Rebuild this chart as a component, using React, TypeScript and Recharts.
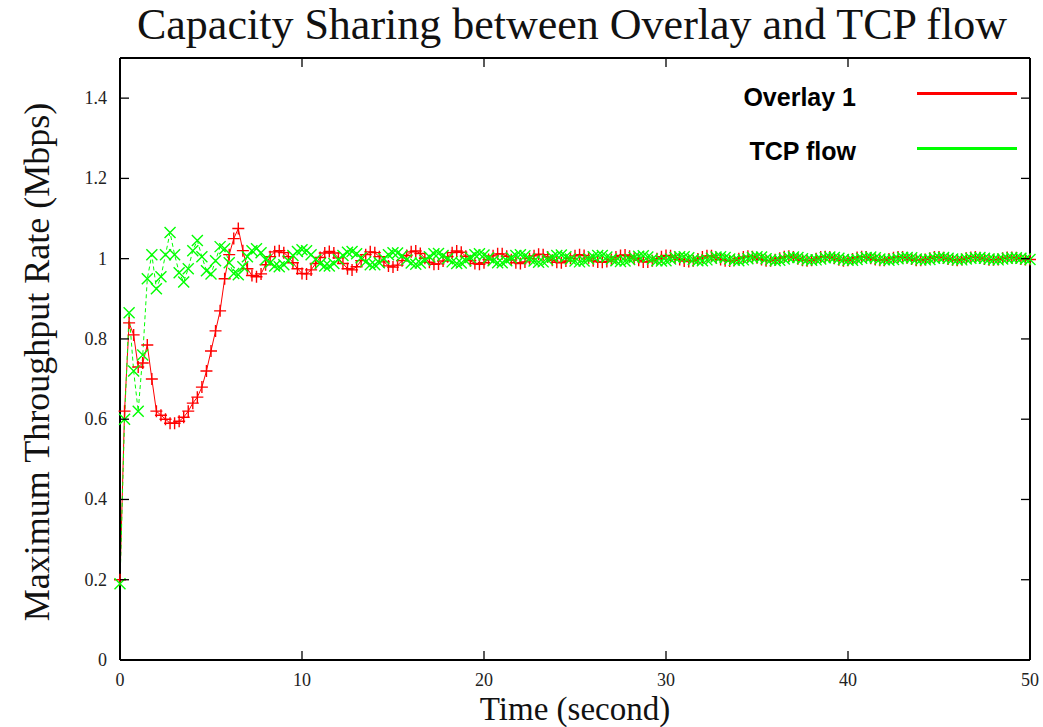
import { LineChart, Line, XAxis, YAxis } from "recharts";

// samples every 0.25 s, t = 0 .. 50
const STEP = 0.25;

const overlay1 = [
  0.2, 0.62, 0.84, 0.81, 0.73, 0.74, 0.785, 0.7,
  0.62, 0.61, 0.6, 0.59, 0.59, 0.595, 0.605, 0.62,
  0.64, 0.655, 0.68, 0.72, 0.77, 0.82, 0.87, 0.95,
  1.01, 1.05, 1.075, 1.02, 0.975, 0.958, 0.955, 0.962,
  0.985, 1.005, 1.017, 1.02, 1.015, 1.005, 0.99, 0.975,
  0.963, 0.962, 0.972, 0.988, 1.003, 1.014, 1.018, 1.014,
  1.002, 0.988, 0.975, 0.972, 0.98, 0.995, 1.01, 1.017,
  1.015, 1.005, 0.992, 0.982, 0.979, 0.984, 0.995, 1.008,
  1.017, 1.019, 1.013, 1.001, 0.991, 0.986, 0.987, 0.994,
  1.005, 1.015, 1.019, 1.016, 1.006, 0.995, 0.988, 0.986,
  0.99, 0.998, 1.007, 1.012, 1.012, 1.006, 0.997, 0.99,
  0.988, 0.992, 1.0, 1.007, 1.011, 1.01, 1.004, 0.996,
  0.991, 0.99, 0.994, 1.001, 1.007, 1.01, 1.008, 1.002,
  0.995, 0.992, 0.991, 0.993, 0.998, 1.004, 1.008, 1.009,
  1.006, 1.001, 0.996, 0.992, 0.992, 0.995, 1.0, 1.005,
  1.008, 1.007, 1.003, 0.998, 0.994, 0.993, 0.995, 0.999,
  1.004, 1.007, 1.007, 1.003, 0.998, 0.995, 0.994, 0.996,
  1.0, 1.004, 1.006, 1.005, 1.002, 0.998, 0.995, 0.995,
  0.997, 1.001, 1.005, 1.006, 1.004, 1.0, 0.996, 0.995,
  0.996, 1.0, 1.004, 1.005, 1.004, 1.001, 0.997, 0.995,
  0.996, 0.999, 1.003, 1.005, 1.004, 1.001, 0.998, 0.996,
  0.996, 0.999, 1.002, 1.004, 1.004, 1.002, 0.999, 0.996,
  0.996, 0.998, 1.001, 1.004, 1.004, 1.002, 0.999, 0.997,
  0.996, 0.998, 1.001, 1.003, 1.004, 1.002, 0.999, 0.997,
  0.997, 0.998, 1.001, 1.003, 1.003, 1.002, 0.999, 0.998,
  0.998,
];

const tcpFlow = [
  0.19, 0.6, 0.865, 0.72, 0.62, 0.76, 0.95, 1.01,
  0.925, 0.955, 1.01, 1.065, 1.01, 0.965, 0.942, 0.975,
  1.02, 1.045, 1.005, 0.97, 0.962, 0.995, 1.03, 1.025,
  0.99, 0.963, 0.96, 0.98, 1.005, 1.02, 1.025, 1.015,
  0.998, 0.99, 0.982, 0.98, 0.985, 0.995, 1.008, 1.018,
  1.022, 1.02, 1.01, 0.998, 0.988, 0.982, 0.982, 0.988,
  0.998, 1.008, 1.016, 1.018, 1.012, 1.002, 0.992, 0.985,
  0.985, 0.99, 1.0, 1.01, 1.015, 1.014, 1.007, 0.997,
  0.989, 0.986, 0.989, 0.996, 1.005, 1.012, 1.013, 1.008,
  1.0, 0.992, 0.988, 0.989, 0.995, 1.003, 1.01, 1.012,
  1.009, 1.002, 0.995, 0.99, 0.99, 0.995, 1.002, 1.008,
  1.01, 1.007, 1.0, 0.994, 0.991, 0.992, 0.997, 1.004,
  1.008, 1.009, 1.005, 0.999, 0.994, 0.992, 0.994, 0.999,
  1.005, 1.008, 1.008, 1.004, 0.999, 0.995, 0.993, 0.994,
  0.998, 1.003, 1.006, 1.007, 1.004, 0.999, 0.995, 0.994,
  0.995, 0.999, 1.003, 1.005, 1.005, 1.002, 0.998, 0.995,
  0.995, 0.997, 1.001, 1.004, 1.005, 1.003, 0.999, 0.996,
  0.995, 0.997, 1.0, 1.003, 1.005, 1.004, 1.0, 0.997,
  0.995, 0.996, 0.999, 1.003, 1.004, 1.003, 1.0, 0.997,
  0.996, 0.997, 0.999, 1.002, 1.004, 1.003, 1.001, 0.998,
  0.996, 0.996, 0.998, 1.001, 1.003, 1.004, 1.002, 0.999,
  0.997, 0.996, 0.998, 1.0, 1.003, 1.003, 1.002, 0.999,
  0.997, 0.997, 0.998, 1.001, 1.003, 1.003, 1.001, 0.999,
  0.997, 0.997, 0.999, 1.001, 1.002, 1.003, 1.001, 0.999,
  0.998, 0.997, 0.999, 1.001, 1.002, 1.002, 1.001, 0.999,
  0.998,
];

const xTicks = [0, 10, 20, 30, 40, 50];
const yTicks = [0, 0.2, 0.4, 0.6, 0.8, 1, 1.2, 1.4];
const yTickLabels = ["0", "0.2", "0.4", "0.6", "0.8", "1", "1.2", "1.4"];

const TITLE = "Capacity Sharing between Overlay and TCP flow";
const X_LABEL = "Time (second)";
const Y_LABEL = "Maximum Throughput Rate (Mbps)";
const SERIES_NAMES = ["Overlay 1", "TCP flow"];

const RED = "#ff0000";
const GREEN = "#00ff00";
const SERIF = "'Liberation Serif', 'DejaVu Serif', serif";
const SANS = "'Liberation Sans', Arial, sans-serif";
const TICK_LEN = 9;

const data = overlay1.map((v, i) => ({ t: i * STEP, overlay: v, tcp: tcpFlow[i] }));

function BottomTick(props: any) {
  const { x, y, payload } = props;
  return (
    <g>
      <line x1={x} x2={x} y1={y} y2={y - TICK_LEN} stroke="#000" strokeWidth={1.3} />
      <text x={x} y={y + 26} textAnchor="middle" fontFamily={SERIF} fontSize={18} fill="#222">
        {payload.value}
      </text>
    </g>
  );
}

function LeftTick(props: any) {
  const { x, y, payload, index } = props;
  return (
    <g>
      <line x1={x} x2={x + TICK_LEN} y1={y} y2={y} stroke="#000" strokeWidth={1.3} />
      <text x={x - 13} y={y + 6} textAnchor="end" fontFamily={SERIF} fontSize={18} fill="#222">
        {yTickLabels[index] ?? payload.value}
      </text>
    </g>
  );
}

function TopTick(props: any) {
  const { x, y } = props;
  return <line x1={x} x2={x} y1={y} y2={y + TICK_LEN} stroke="#000" strokeWidth={1.3} />;
}

function RightTick(props: any) {
  const { x, y } = props;
  return <line x1={x} x2={x - TICK_LEN} y1={y} y2={y} stroke="#000" strokeWidth={1.3} />;
}

function plusDot(props: any) {
  const { cx, cy, key } = props;
  if (cx == null || cy == null) return <g key={key} />;
  const r = 6;
  return (
    <path
      key={key}
      d={`M${cx - r},${cy}H${cx + r}M${cx},${cy - r}V${cy + r}`}
      stroke={RED}
      strokeWidth={1.4}
      fill="none"
    />
  );
}

function crossDot(props: any) {
  const { cx, cy, key } = props;
  if (cx == null || cy == null) return <g key={key} />;
  const r = 5.5;
  return (
    <path
      key={key}
      d={`M${cx - r},${cy - r}L${cx + r},${cy + r}M${cx - r},${cy + r}L${cx + r},${cy - r}`}
      stroke={GREEN}
      strokeWidth={1.4}
      fill="none"
    />
  );
}

export default function App() {
  const axisLine = { stroke: "#000", strokeWidth: 2 };
  return (
    <div
      style={{
        position: "absolute",
        left: 0,
        top: 0,
        width: 1043,
        height: 727,
        background: "#fff",
        overflow: "hidden",
      }}
    >
      <LineChart
        width={1043}
        height={727}
        data={data}
        margin={{ top: 57, right: 12, bottom: 37, left: 60 }}
      >
        <XAxis
          dataKey="t"
          type="number"
          domain={[0, 50]}
          ticks={xTicks}
          height={30}
          axisLine={axisLine}
          tickLine={false}
          tickSize={0}
          tickMargin={0}
          tick={<BottomTick />}
          interval={0}
        />
        <XAxis
          xAxisId="top"
          orientation="top"
          dataKey="t"
          type="number"
          domain={[0, 50]}
          ticks={xTicks}
          height={1}
          axisLine={axisLine}
          tickLine={false}
          tickSize={0}
          tickMargin={0}
          tick={<TopTick />}
          interval={0}
        />
        <YAxis
          type="number"
          domain={[0, 1.5]}
          ticks={yTicks}
          width={60}
          axisLine={axisLine}
          tickLine={false}
          tickSize={0}
          tickMargin={0}
          tick={<LeftTick />}
          interval={0}
          allowDataOverflow
        />
        <YAxis
          yAxisId="right"
          orientation="right"
          type="number"
          domain={[0, 1.5]}
          ticks={yTicks}
          width={1}
          axisLine={axisLine}
          tickLine={false}
          tickSize={0}
          tickMargin={0}
          tick={<RightTick />}
          interval={0}
          allowDataOverflow
        />
        <Line
          type="linear"
          dataKey="overlay"
          stroke={RED}
          strokeWidth={1}
          dot={plusDot}
          activeDot={false}
          isAnimationActive={false}
        />
        <Line
          type="linear"
          dataKey="tcp"
          stroke={GREEN}
          strokeWidth={1}
          strokeDasharray="4 3"
          dot={crossDot}
          activeDot={false}
          isAnimationActive={false}
        />
      </LineChart>

      <div
        style={{
          position: "absolute",
          left: 572,
          top: 25,
          transform: "translate(-50%, -50%)",
          whiteSpace: "nowrap",
          fontFamily: SERIF,
          fontSize: 44,
          lineHeight: 1,
          color: "#111",
        }}
      >
        {TITLE}
      </div>
      <div
        style={{
          position: "absolute",
          left: 575,
          top: 709,
          transform: "translate(-50%, -50%)",
          whiteSpace: "nowrap",
          fontFamily: SERIF,
          fontSize: 33,
          lineHeight: 1,
          color: "#111",
        }}
      >
        {X_LABEL}
      </div>
      <div
        style={{
          position: "absolute",
          left: 37,
          top: 362,
          transform: "translate(-50%, -50%) rotate(-90deg)",
          whiteSpace: "nowrap",
          fontFamily: SERIF,
          fontSize: 36,
          lineHeight: 1,
          color: "#111",
        }}
      >
        {Y_LABEL}
      </div>

      {[RED, GREEN].map((c, i) => (
        <div key={c}>
          <div
            style={{
              position: "absolute",
              right: 1043 - 856,
              top: i === 0 ? 97 : 151,
              transform: "translateY(-50%)",
              whiteSpace: "nowrap",
              fontFamily: SANS,
              fontWeight: 700,
              fontSize: 25,
              lineHeight: 1,
              color: "#000",
            }}
          >
            {SERIES_NAMES[i]}
          </div>
          <div
            style={{
              position: "absolute",
              left: 917,
              width: 100,
              top: (i === 0 ? 93 : 148) - 1.5,
              height: 3,
              background: c,
            }}
          />
        </div>
      ))}
    </div>
  );
}
